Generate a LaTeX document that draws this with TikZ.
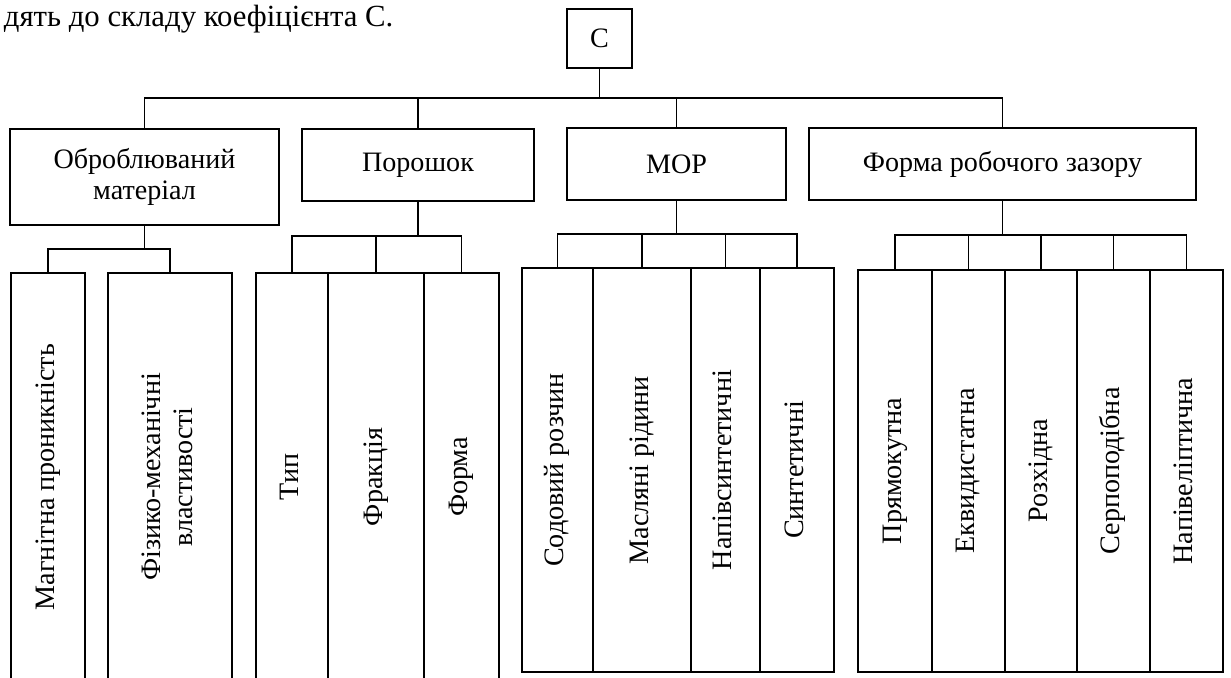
\documentclass[tikz,border=0pt]{standalone}
\usepackage{fontspec}
\setmainfont{Liberation Serif}
\usepackage{graphicx}

% vertical text inside the narrow boxes
\newcommand{\rottext}[1]{\rotatebox{90}{\begin{tabular}{@{}c@{}}#1\end{tabular}}}

\begin{document}
\begin{tikzpicture}[
			x=0.02cm, y=-0.02cm,
			line width=1pt,
			every node/.style={font=\fontsize{16}{18}\selectfont},
			box/.style={draw, rectangle, inner sep=0pt, outer sep=0pt, align=center},
			leaf/.style={draw, rectangle, inner sep=0pt, outer sep=0pt}
			]
			\clip (0,0) rectangle (1231,677);
			
			% Рядок тексту над схемою
			\node[anchor=base west, inner sep=0pt, font=\fontsize{17.5}{20}\selectfont] (intro) at (3,26)
			{дять до складу коефіцієнта С.};
			
			% Коефіцієнт
			\node[box, minimum width=1.3cm, minimum height=1.18cm] (c) at (599.5,38.5) {С};
			
			% Групи факторів
			\node[box, minimum width=5.38cm, minimum height=1.92cm] (obr) at (144.5,177)
			{Оброблюваний\\матеріал};
			
			\node[box, minimum width=4.64cm, minimum height=1.44cm] (por) at (418,165)
			{Порошок};
			
			\node[box, minimum width=4.38cm, minimum height=1.44cm] (mor) at (676.5,164)
			{МОР};
			
			\node[box, minimum width=7.74cm, minimum height=1.44cm] (form) at (1002.5,164)
			{Форма робочого зазору};
			
			% Оброблюваний матеріал
			\node[leaf, minimum width=1.48cm, minimum height=8.16cm] (mag) at (48,477)
			{\rottext{Магнітна проникність}};
			\node[leaf, minimum width=2.48cm, minimum height=8.16cm] (fiz) at (170,477)
			{\rottext{Фізико-механічні\\властивості}};
			
			% Порошок
			\node[leaf, minimum width=1.44cm, minimum height=8.16cm] (typ) at (292,477)
			{\rottext{Тип}};
			\node[leaf, minimum width=1.92cm, minimum height=8.16cm] (frak) at (376,477)
			{\rottext{Фракція}};
			\node[leaf, minimum width=1.5cm, minimum height=8.16cm] (formp) at (461.5,477)
			{\rottext{Форма}};
			
			% МОР
			\node[leaf, minimum width=1.42cm, minimum height=8.08cm] (sod) at (557.5,470)
			{\rottext{Содовий розчин}};
			\node[leaf, minimum width=1.96cm, minimum height=8.08cm] (masl) at (642,470)
			{\rottext{Масляні рідини}};
			\node[leaf, minimum width=1.38cm, minimum height=8.08cm] (napsyn) at (725.5,470)
			{\rottext{Напівсинтетичні}};
			\node[leaf, minimum width=1.48cm, minimum height=8.08cm] (syn) at (797,470)
			{\rottext{Синтетичні}};
			
			% Форма робочого зазору
			\node[leaf, minimum width=1.48cm, minimum height=8.04cm] (pryam) at (895,471)
			{\rottext{Прямокутна}};
			\node[leaf, minimum width=1.46cm, minimum height=8.04cm] (ekv) at (968.5,471)
			{\rottext{Еквидистатна}};
			\node[leaf, minimum width=1.44cm, minimum height=8.04cm] (rozh) at (1041,471)
			{\rottext{Розхідна}};
			\node[leaf, minimum width=1.46cm, minimum height=8.04cm] (serp) at (1113.5,471)
			{\rottext{Серпоподібна}};
			\node[leaf, minimum width=1.46cm, minimum height=8.04cm] (napel) at (1186.5,471)
			{\rottext{Напівеліптична}};
			
			% Лінії зв'язку
			\coordinate (bus) at (599.5,98);
			\draw (c) -- (bus);
			\draw (obr.north) |- (bus) -| (form.north);
			\draw (por.north) -- (por.north |- bus);
			\draw (mor.north) -- (mor.north |- bus);
			
			\coordinate (obrbar) at (144.5,249);
			\draw (obr) -- (obrbar);
			\draw (mag.north) |- (obrbar) -| (fiz.north);
			
			\coordinate (porbar) at (418,236);
			\draw (por) -- (porbar);
			\draw (typ.north) |- (porbar) -| (formp.north);
			\draw (frak.north) -- (frak.north |- porbar);
			
			\coordinate (morbar) at (676.5,234);
			\draw (mor) -- (morbar);
			\draw (sod.north) |- (morbar) -| (syn.north);
			\draw (masl.north) -- (masl.north |- morbar);
			\draw (napsyn.north) -- (napsyn.north |- morbar);
			
			\coordinate (formbar) at (1002.5,235);
			\draw (form) -- (formbar);
			\draw (pryam.north) |- (formbar) -| (napel.north);
			\foreach \n in {ekv, rozh, serp}
			\draw (\n.north) -- (\n.north |- formbar);
			
		\end{tikzpicture}
\end{document}
